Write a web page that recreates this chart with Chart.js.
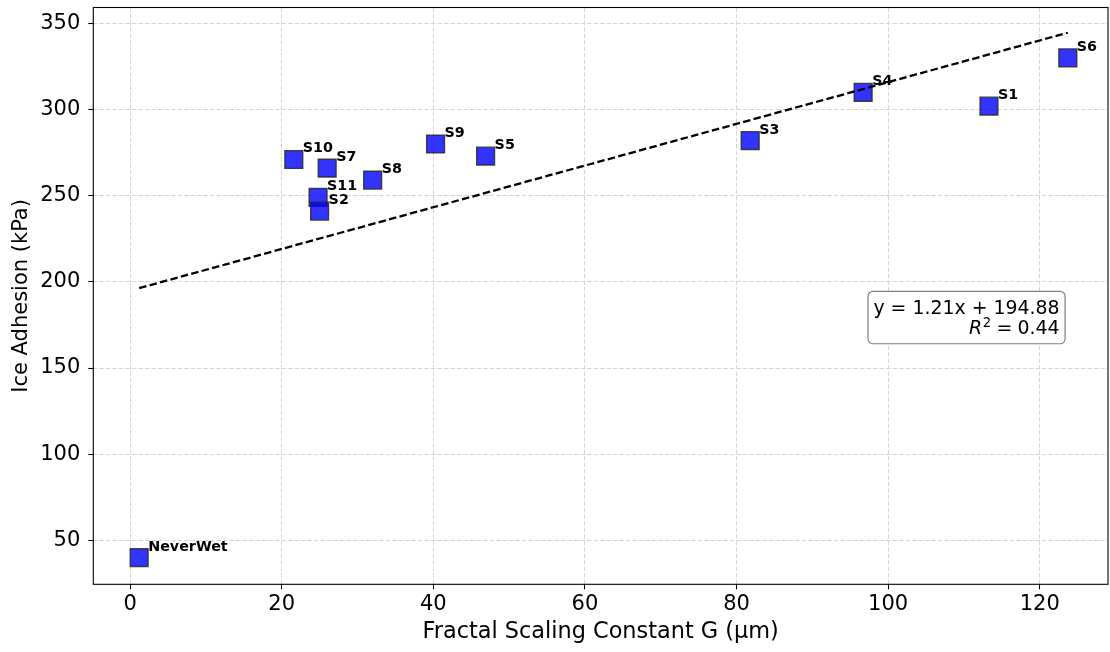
<!DOCTYPE html>
<html>
<head>
<meta charset="utf-8">
<title>Ice Adhesion vs Fractal Scaling Constant</title>
<script src="https://cdn.jsdelivr.net/npm/chart.js@4.4.1/dist/chart.umd.min.js"></script>
<style>
  html, body { margin: 0; padding: 0; background: #ffffff; }
  #wrap { width: 1110px; height: 652px; }
</style>
</head>
<body>
<div id="wrap"><canvas id="chart" width="1110" height="652"></canvas></div>
<script>
// Samples and measurements
const sampleNames = ['NeverWet', 'S10', 'S11', 'S2', 'S7', 'S8', 'S9', 'S5', 'S3', 'S4', 'S1', 'S6'];
const fractalG    = [1.2, 21.6, 24.8, 25.0, 26.0, 32.0, 40.3, 46.9, 81.8, 96.7, 113.3, 123.7];
const iceAdhesion = [40, 271, 249, 241, 266, 259, 280, 273, 282, 310, 302, 330];

// Linear fit reported in the legend box
const fitSlope = 1.21;
const fitIntercept = 194.88;
const fitR2 = 0.44;

// Axis ticks
const xTickValues = [0, 20, 40, 60, 80, 100, 120];
const yTickValues = [50, 100, 150, 200, 250, 300, 350];

const FONT = "'DejaVu Sans', 'Liberation Sans', sans-serif";

const points = fractalG.map((g, i) => ({ x: g, y: iceAdhesion[i] }));
const gMin = Math.min(...fractalG);
const gMax = Math.max(...fractalG);
const fitLine = [gMin, gMax].map(g => ({ x: g, y: fitSlope * g + fitIntercept }));

// Plot-area box (canvas pixels)
const AREA = { left: 93.3, top: 7.5, right: 1108, bottom: 584.3 };

// Pin the plotting area and the two axis boxes after the automatic layout
const fixedAreaPlugin = {
  id: 'fixedArea',
  afterLayout(chart) {
    const ca = chart.chartArea;
    ca.left = AREA.left; ca.top = AREA.top; ca.right = AREA.right; ca.bottom = AREA.bottom;
    ca.width = AREA.right - AREA.left; ca.height = AREA.bottom - AREA.top;
    const x = chart.scales.x, y = chart.scales.y;
    x.left = AREA.left; x.right = AREA.right; x.width = ca.width;
    x.top = AREA.bottom; x.bottom = chart.height; x.height = chart.height - AREA.bottom;
    y.left = 0; y.right = AREA.left; y.width = AREA.left;
    y.top = AREA.top; y.bottom = AREA.bottom; y.height = ca.height;
    x.configure();
    y.configure();
  }
};

// Full frame around the plotting area
const framePlugin = {
  id: 'frame',
  afterDatasetsDraw(chart) {
    const { ctx, chartArea: a } = chart;
    ctx.save();
    ctx.strokeStyle = '#000000';
    ctx.lineWidth = 1.1;
    ctx.strokeRect(a.left, a.top, a.right - a.left, a.bottom - a.top);
    ctx.restore();
  }
};

// Sample names next to each marker
const pointLabelPlugin = {
  id: 'pointLabels',
  afterDatasetsDraw(chart) {
    const meta = chart.getDatasetMeta(1);
    const { ctx } = chart;
    ctx.save();
    ctx.font = `bold 14.3px ${FONT}`;
    ctx.fillStyle = '#000000';
    ctx.textAlign = 'left';
    ctx.textBaseline = 'alphabetic';
    meta.data.forEach((el, i) => {
      ctx.fillText(sampleNames[i], el.x + 9, el.y - 7);
    });
    ctx.restore();
  }
};

// Fit equation box
const fitBoxPlugin = {
  id: 'fitBox',
  afterDraw(chart) {
    const { ctx, chartArea: a } = chart;
    const w = a.right - a.left, h = a.bottom - a.top;
    const left = a.left + 0.7635 * w;
    const right = a.left + 0.9577 * w;
    const top = a.top + 0.492 * h;
    const bottom = a.top + 0.583 * h;
    const r = 5;
    ctx.save();
    ctx.beginPath();
    ctx.moveTo(left + r, top);
    ctx.lineTo(right - r, top);
    ctx.arcTo(right, top, right, top + r, r);
    ctx.lineTo(right, bottom - r);
    ctx.arcTo(right, bottom, right - r, bottom, r);
    ctx.lineTo(left + r, bottom);
    ctx.arcTo(left, bottom, left, bottom - r, r);
    ctx.lineTo(left, top + r);
    ctx.arcTo(left, top, left + r, top, r);
    ctx.closePath();
    ctx.fillStyle = '#ffffff';
    ctx.fill();
    ctx.strokeStyle = '#808080';
    ctx.lineWidth = 1.2;
    ctx.stroke();

    const textRight = right - 5.5;
    const size = 18.9;
    ctx.fillStyle = '#000000';
    ctx.textBaseline = 'alphabetic';
    ctx.textAlign = 'right';
    ctx.font = `${size}px ${FONT}`;
    const line1 = `y = ${fitSlope.toFixed(2)}x + ${fitIntercept.toFixed(2)}`;
    ctx.fillText(line1, textRight, top + 22.3);

    // second line: italic R, superscript 2, "=", value (math-style spacing)
    const base2 = top + 42.8;
    const gap = 0.28 * size;
    let xr = textRight;
    const value = fitR2.toFixed(2);
    ctx.font = `${size}px ${FONT}`;
    ctx.fillText(value, xr, base2);
    xr -= ctx.measureText(value).width + gap;
    ctx.fillText('=', xr, base2);
    xr -= ctx.measureText('=').width + gap;
    ctx.font = `${size * 0.7}px ${FONT}`;
    ctx.fillText('2', xr, base2 - 0.4 * size);
    xr -= ctx.measureText('2').width + 0.5;
    ctx.font = `italic ${size}px ${FONT}`;
    ctx.fillText('R', xr, base2);
    ctx.restore();
  }
};

const tickFont = { family: FONT, size: 21 };

new Chart(document.getElementById('chart'), {
  type: 'scatter',
  data: {
    datasets: [
      {
        type: 'line',
        label: 'Linear fit',
        data: fitLine,
        borderColor: '#000000',
        borderWidth: 2.3,
        borderDash: [7.5, 3.3],
        pointRadius: 0,
        fill: false,
        tension: 0
      },
      {
        label: 'Samples',
        data: points,
        pointStyle: 'rect',
        pointRadius: 12.6,
        pointHoverRadius: 12.6,
        backgroundColor: 'rgba(0, 0, 255, 0.8)',
        borderColor: 'rgba(40, 40, 40, 0.85)',
        borderWidth: 1.4
      }
    ]
  },
  options: {
    responsive: false,
    devicePixelRatio: 1,
    animation: false,
    events: [],
    layout: { padding: { left: 0, top: 7.5, right: 2, bottom: 0 } },
    plugins: {
      legend: { display: false },
      tooltip: { enabled: false }
    },
    scales: {
      x: {
        type: 'linear',
        min: -4.85,
        max: 129.0,
        afterBuildTicks: s => { s.ticks = xTickValues.map(v => ({ value: v })); },
        ticks: { font: tickFont, color: '#000000', padding: 3, maxRotation: 0 },
        grid: {
          color: '#d6d6d6',
          lineWidth: 1,
          tickLength: 5,
          tickColor: '#000000',
          tickWidth: 1.1
        },
        border: { display: false, dash: [4.5, 2] },
        title: {
          display: true,
          text: 'Fractal Scaling Constant G (μm)',
          font: { family: FONT, size: 22.4 },
          color: '#000000',
          padding: { top: 0, bottom: 6 }
        }
      },
      y: {
        type: 'linear',
        min: 24.5,
        max: 359.2,
        afterBuildTicks: s => { s.ticks = yTickValues.map(v => ({ value: v })); },
        ticks: { font: tickFont, color: '#000000', padding: 8 },
        grid: {
          color: '#d6d6d6',
          lineWidth: 1,
          tickLength: 5,
          tickColor: '#000000',
          tickWidth: 1.1
        },
        border: { display: false, dash: [4.5, 2] },
        title: {
          display: true,
          text: 'Ice Adhesion (kPa)',
          font: { family: FONT, size: 21 },
          color: '#000000',
          padding: { top: 9, bottom: 0 }
        }
      }
    }
  },
  plugins: [fixedAreaPlugin, framePlugin, pointLabelPlugin, fitBoxPlugin]
});
</script>
</body>
</html>
